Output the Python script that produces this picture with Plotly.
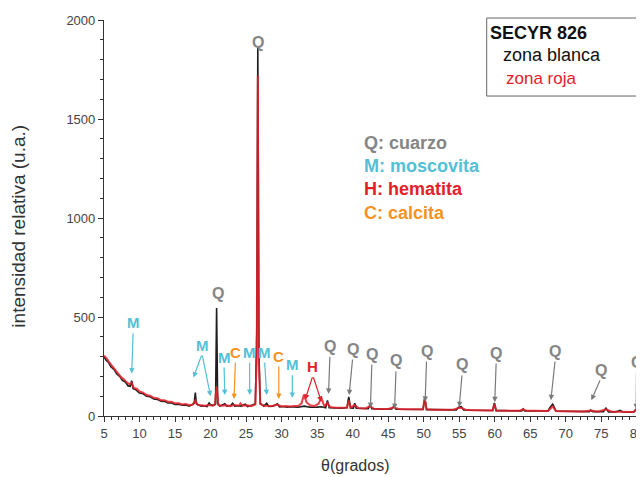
import plotly.graph_objects as go

# ---------------- data ----------------
blanca_x = [5.0, 5.3, 5.6, 6.0, 6.4, 6.8, 7.2, 7.6, 8.0, 8.4, 8.7, 8.9, 9.1, 9.5, 10.0, 10.5,
            11.0, 11.5, 12.0, 12.5, 13.0, 13.5, 14.0, 14.5, 15.0, 15.5, 16.0, 16.5, 17.0, 17.5,
            17.7, 17.85, 18.0, 18.3, 18.7, 19.0, 19.5, 19.8, 20.0, 20.4, 20.7, 20.85, 21.0, 21.3,
            21.8, 22.0, 22.3, 22.8, 23.1, 23.4, 23.8, 24.3, 24.9, 25.2, 25.8, 26.3, 26.5, 26.65,
            26.8, 27.0, 27.5, 27.9, 28.2, 28.8, 29.4, 29.7, 30.2, 30.8, 31.2, 31.8, 32.3, 33.2,
            34.0, 35.0, 35.6, 36.2, 36.45, 36.7, 37.5, 38.5, 39.2, 39.45, 39.7, 40.1, 40.3, 40.5,
            41.5, 42.2, 42.45, 42.7, 43.5, 44.5, 45.5, 45.8, 46.1, 47.0, 48.0, 49.0, 49.9, 50.15,
            50.4, 51.5, 52.5, 53.5, 54.6, 54.9, 55.3, 55.6, 56.5, 57.5, 58.5, 59.7, 59.95, 60.2,
            61.5, 63.0, 63.8, 64.0, 64.2, 65.5, 66.5, 67.5, 67.75, 68.15, 68.3, 68.6, 69.5, 71.0,
            72.5, 73.3, 73.5, 73.8, 75.3, 75.65, 76.0, 77.0, 77.65, 78.0, 79.0, 79.6, 79.88, 80.0]
blanca_y = [300, 282, 272, 248, 236, 212, 200, 180, 172, 152, 150, 178, 138, 132, 116, 112,
            100, 97, 86, 84, 75, 74, 66, 66, 58, 60, 54, 56, 50, 58,
            64, 118, 62, 55, 50, 52, 48, 66, 56, 54, 60, 545, 62, 50,
            58, 62, 50, 52, 64, 50, 52, 50, 60, 48, 54, 62, 420, 1860,
            320, 64, 50, 64, 48, 50, 62, 46, 48, 44, 47, 46, 44, 50,
            44, 45, 47, 42, 78, 42, 41, 39, 43, 96, 41, 40, 64, 39,
            38, 37, 58, 37, 36, 34, 36, 50, 34, 34, 33, 32, 33, 92,
            32, 32, 30, 31, 30, 44, 47, 30, 29, 28, 28, 28, 66, 27,
            27, 26, 26, 36, 26, 25, 24, 26, 42, 60, 50, 25, 24, 23,
            22, 22, 30, 22, 22, 40, 21, 20, 28, 20, 19, 20, 36, 22]

roja_x = [5.0, 5.4, 5.8, 6.2, 6.6, 7.0, 7.4, 7.8, 8.2, 8.6, 8.9, 9.2, 9.6, 10.0, 10.5, 11.0,
          11.5, 12.0, 12.5, 13.0, 13.5, 14.0, 14.5, 15.0, 15.5, 16.0, 16.5, 17.0, 17.5, 17.85,
          18.2, 18.7, 19.2, 19.8, 20.3, 20.6, 20.85, 21.1, 21.6, 22.2, 22.8, 23.4, 24.0, 24.2,
          24.5, 25.1, 25.7, 26.3, 26.5, 26.65, 26.8, 27.0, 27.6, 28.2, 28.8, 29.4, 30.0, 30.6,
          31.2, 31.8, 32.4, 32.8, 33.15, 33.5, 34.0, 34.6, 35.2, 35.6, 36.0, 36.45, 36.8, 37.6,
          38.6, 39.2, 39.45, 39.7, 40.3, 40.8, 41.8, 42.45, 43.0, 44.0, 45.0, 45.8, 46.5, 47.5,
          48.5, 49.5, 49.9, 50.15, 50.4, 51.5, 52.5, 53.5, 54.0, 54.9, 55.4, 56.0, 57.0, 58.0,
          59.0, 59.7, 59.95, 60.2, 61.5, 62.5, 63.5, 64.0, 64.5, 65.5, 66.5, 67.5, 68.15, 68.6,
          69.5, 70.5, 71.5, 72.5, 73.5, 74.5, 75.65, 76.5, 77.5, 78.5, 79.5, 79.88, 80.0]
roja_y = [305, 290, 268, 250, 232, 218, 196, 186, 170, 160, 168, 142, 138, 124, 118, 106,
          102, 92, 90, 80, 80, 72, 72, 64, 64, 58, 60, 54, 58, 78,
          56, 54, 52, 56, 52, 58, 150, 56, 52, 54, 50, 56, 52, 64,
          52, 54, 50, 58, 300, 1720, 260, 60, 52, 50, 52, 58, 48, 50,
          48, 50, 52, 64, 108, 70, 54, 50, 62, 92, 50, 66, 46, 42,
          40, 42, 78, 42, 56, 40, 38, 50, 36, 36, 35, 44, 35, 34,
          33, 33, 34, 88, 34, 32, 32, 31, 31, 40, 40, 30, 29, 29,
          28, 28, 60, 28, 27, 27, 27, 34, 26, 26, 25, 25, 48, 25,
          24, 24, 23, 23, 28, 22, 34, 22, 22, 21, 20, 30, 22]

# peak labels: text, colour key, label position (deg, intensity), arrow tips
label_text = ["Q", "Q", "M", "M", "M", "C", "M", "M", "C", "M", "H",
              "Q", "Q", "Q", "Q", "Q", "Q", "Q", "Q", "Q", "Q"]
label_kind = ["Q", "Q", "M", "M", "M", "C", "M", "M", "C", "M", "H",
              "Q", "Q", "Q", "Q", "Q", "Q", "Q", "Q", "Q", "Q"]
label_x = [26.7, 21.0, 9.1, 18.8, 21.9, 23.5, 25.5, 27.6, 29.6, 31.5, 34.4,
           36.8, 40.0, 42.7, 46.1, 50.4, 55.4, 60.2, 68.5, 74.9, 79.95]
label_y = [1885, 620, 470, 358, 298, 322, 322, 322, 302, 258, 248,
           352, 338, 312, 278, 328, 258, 318, 328, 232, 272]
tips_x = [[], [], [8.9], [17.6, 20.0], [22.0], [23.3], [25.5], [27.9], [29.6], [31.5], [33.3, 35.6],
          [36.6], [39.5, 40.3], [42.5], [45.9], [50.2], [55.0, 55.4], [60.0], [67.9, 68.4], [73.6, 75.7], [79.9]]
tips_y = [[], [], [215], [195, 100], [106], [86], [106], [106], [86], [92], [82, 72],
          [112], [106], [40], [35], [72], [45], [70], [80], [80], [35]]

legend_box_title = "SECYR 826"
series_names = ["zona blanca", "zona roja"]
mineral_keys = ["Q", "M", "H", "C"]
mineral_names = ["Q: cuarzo", "M: moscovita", "H: hematita", "C: calcita"]

# ---------------- style ----------------
FONT = "Arial, Liberation Sans, Helvetica, sans-serif"
kind_color = {"Q": "#858585", "M": "#52c1d6", "H": "#e3202a", "C": "#f39322"}
arrow_color = {"Q": "#7a7a7a", "M": "#52c1d6", "H": "#e3202a", "C": "#f39322"}
BLACK = "#1e1e1e"
RED = "#e4202a"

fig = go.Figure()
fig.add_trace(go.Scatter(x=blanca_x, y=blanca_y, mode="lines", name=series_names[0],
                         line=dict(color=BLACK, width=1.6), showlegend=False))
fig.add_trace(go.Scatter(x=roja_x, y=roja_y, mode="lines", name=series_names[1],
                         line=dict(color=RED, width=2.0), opacity=0.85, showlegend=False))

annotations = []
for t, k, lx, ly, txs, tys in zip(label_text, label_kind, label_x, label_y, tips_x, tips_y):
    annotations.append(dict(x=lx, y=ly, xref="x", yref="y", text="<b>%s</b>" % t,
                            showarrow=False,
                            font=dict(family=FONT, size=16 if k == "Q" else 15, color=kind_color[k]),
                            xanchor="center", yanchor="middle"))
    for tx, ty in zip(txs, tys):
        annotations.append(dict(x=tx, y=ty, xref="x", yref="y", ax=lx, ay=ly - 45,
                                axref="x", ayref="y", text="", showarrow=True,
                                arrowhead=2, arrowsize=0.9, arrowwidth=1.2,
                                arrowcolor=arrow_color[k]))

# mineral key text
for i, (k, nm) in enumerate(zip(mineral_keys, mineral_names)):
    annotations.append(dict(x=0.484, y=0.689 - i * 0.0585, xref="paper", yref="paper",
                            text="<b>%s</b>" % nm, showarrow=False, xanchor="left", yanchor="middle",
                            font=dict(family=FONT, size=18, color=kind_color[k])))

# legend box text
annotations.append(dict(x=0.721, y=0.967, xref="paper", yref="paper", text="<b>%s</b>" % legend_box_title,
                        showarrow=False, xanchor="left", yanchor="middle",
                        font=dict(family=FONT, size=18, color="#111111")))
annotations.append(dict(x=0.745, y=0.911, xref="paper", yref="paper", text=series_names[0],
                        showarrow=False, xanchor="left", yanchor="middle",
                        font=dict(family=FONT, size=18, color="#111111")))
annotations.append(dict(x=0.751, y=0.853, xref="paper", yref="paper", text=series_names[1],
                        showarrow=False, xanchor="left", yanchor="middle",
                        font=dict(family=FONT, size=17, color=RED)))

# axis titles
annotations.append(dict(x=-0.16, y=0.48, xref="paper", yref="paper", text="intensidad relativa (u.a.)",
                        textangle=-90, showarrow=False, xanchor="center", yanchor="middle",
                        font=dict(family=FONT, size=19, color="#333333")))
annotations.append(dict(x=0.471, y=-0.126, xref="paper", yref="paper", text="θ(grados)",
                        showarrow=False, xanchor="center", yanchor="middle",
                        font=dict(family=FONT, size=16, color="#333333")))

# the page body has an 8px margin, so the figure is sized/margined to land the
# plot area at x 104..637, y 20..416 of the 644x477 window
fig.update_layout(
    width=636, height=469,
    margin=dict(l=96, r=7, t=12, b=61, autoexpand=False),
    paper_bgcolor="white", plot_bgcolor="white",
    font=dict(family=FONT, size=13, color="#444444"),
    annotations=annotations,
    shapes=[dict(type="rect", xref="paper", yref="paper", x0=0.718, x1=1.005, y0=0.808, y1=1.005,
                 line=dict(color="#666666", width=1), fillcolor="rgba(0,0,0,0)")],
)
fig.update_xaxes(range=[5, 80.02], showgrid=False, zeroline=False, showline=True, automargin=False,
                 linecolor="#333333", linewidth=1.2, ticks="outside", ticklen=5, tickwidth=1.2,
                 tickcolor="#333333", dtick=5, tick0=5, ticklabeloverflow="allow",
                 minor=dict(ticks="outside", ticklen=3, dtick=1, tickcolor="#333333", showgrid=False),
                 tickfont=dict(family=FONT, size=13, color="#444444"))
fig.update_yaxes(range=[0, 2000], showgrid=False, zeroline=False, showline=True, automargin=False,
                 linecolor="#333333", linewidth=1.2, ticks="outside", ticklen=5, tickwidth=1.2,
                 tickcolor="#333333", dtick=500,
                 minor=dict(ticks="outside", ticklen=3, dtick=100, tickcolor="#333333", showgrid=False),
                 tickfont=dict(family=FONT, size=13, color="#444444"))

fig.write_html("out.html")
